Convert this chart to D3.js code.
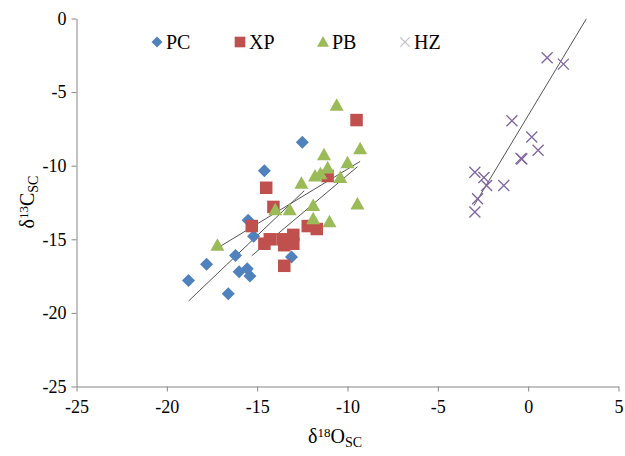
<!DOCTYPE html>
<html>
<head>
<meta charset="utf-8">
<script src="https://cdn.jsdelivr.net/npm/d3@7"></script>
<style>
body { margin: 0; background: #fff; }
text { font-family: "Liberation Serif", "Times New Roman", serif; fill: #000; }
</style>
</head>
<body>
<div id="chart"></div>
<script>
// values
var pcX = [-18.8, -17.8, -16.6, -16.2, -16.0, -15.55, -15.4, -15.5, -15.2, -14.6, -13.1, -12.5];
var pcY = [-17.8, -16.7, -18.7, -16.1, -17.2, -17.0, -17.5, -13.7, -14.8, -10.35, -16.2, -8.4];

var xpX = [-9.5, -11.1, -14.5, -14.1, -15.3, -12.2, -11.7, -13.0, -13.6, -14.3, -14.6, -13.5, -13.0, -13.5];
var xpY = [-6.9, -10.7, -11.5, -12.8, -14.1, -14.1, -14.3, -14.7, -15.0, -15.0, -15.3, -15.4, -15.3, -16.8];

var pbX = [-17.2, -14.0, -13.2, -12.55, -11.9, -11.9, -11.0, -11.8, -11.5, -11.1, -11.3, -10.4, -10.0, -9.3, -9.45, -10.6];
var pbY = [-15.4, -13.0, -13.0, -11.2, -12.7, -13.6, -13.8, -10.7, -10.55, -10.15, -9.25, -10.8, -9.8, -8.85, -12.6, -5.9];

var hzX = [1.05, 1.95, -0.9, 0.2, 0.55, -0.35, -0.4, -2.95, -2.45, -2.3, -1.35, -2.8, -2.95];
var hzY = [-2.67, -3.1, -6.95, -8.05, -8.95, -9.55, -9.5, -10.45, -10.8, -11.35, -11.35, -12.25, -13.15];

// linear trendlines: slope, intercept, x start, x end
var trendSlope = [1.17, 1.034, 0.745, 2.04];
var trendIntercept = [2.8, -0.3, -2.78, -6.59];
var trendStart = [-18.8, -15.3, -17.15, -3.0];
var trendEnd = [-12.4, -9.45, -9.3, 3.22];

var seriesNames = ["PC", "XP", "PB", "HZ"];
var xTicks = [-25, -20, -15, -10, -5, 0, 5];
var yTicks = [0, -5, -10, -15, -20, -25];

var series = [
    {xs: pcX, ys: pcY, color: "#4F81BD", shape: "diamond"},
    {xs: xpX, ys: xpY, color: "#C0504D", shape: "square"},
    {xs: pbX, ys: pbY, color: "#9BBB59", shape: "triangle"},
    {xs: hzX, ys: hzY, color: "#8064A2", shape: "cross"}
];

var width = 625, height = 456;
var serif = "'Liberation Serif', 'Times New Roman', serif";

var svg = d3.select("#chart").append("svg")
    .attr("width", width)
    .attr("height", height);

var x = d3.scaleLinear().domain([-25, 5]).range([76.5, 618.5]);
var y = d3.scaleLinear().domain([-25, 0]).range([386.5, 18.5]);

var axisColor = "#868686";
var fmt = function(d) { return String(d); };   // plain hyphen, like the original

var xAxis = svg.append("g")
    .attr("transform", "translate(0," + y(-25) + ")")
    .call(d3.axisBottom(x).tickValues(xTicks).tickSize(5).tickSizeOuter(0).tickFormat(fmt));

var yAxis = svg.append("g")
    .attr("transform", "translate(" + x(-25) + ",0)")
    .call(d3.axisLeft(y).tickValues(yTicks).tickSize(5).tickSizeOuter(0).tickFormat(fmt));

[xAxis, yAxis].forEach(function(a)
{
    a.attr("font-family", serif);
    a.select(".domain").attr("stroke", axisColor);
    a.selectAll(".tick line").attr("stroke", axisColor);
    a.selectAll(".tick text")
        .style("font-family", serif)
        .style("font-size", "18px")
        .attr("fill", "#000");
});
xAxis.selectAll(".tick text").attr("dy", "1.05em");
yAxis.selectAll(".tick text").attr("x", -10);

var lines = svg.append("g");
trendSlope.forEach(function(b, i)
{
    var a = trendIntercept[i];
    lines.append("line")
        .attr("x1", x(trendStart[i])).attr("y1", y(a + b * trendStart[i]))
        .attr("x2", x(trendEnd[i])).attr("y2", y(a + b * trendEnd[i]))
        .attr("stroke", "#555")
        .attr("stroke-width", 1);
});

function drawMarker(g, shape, color)
{
    if (shape == "diamond") {
        g.append("path").attr("d", "M0,-6.5L6.5,0L0,6.5L-6.5,0Z").attr("fill", color);
    } else if (shape == "square") {
        g.append("rect").attr("x", -6.25).attr("y", -6.25).attr("width", 12.5).attr("height", 12.5).attr("fill", color);
    } else if (shape == "triangle") {
        g.append("path").attr("d", "M0,-7L7,5.5L-7,5.5Z").attr("fill", color);
    } else {
        g.append("path").attr("d", "M-5.5,-5.5L5.5,5.5M-5.5,5.5L5.5,-5.5")
            .attr("stroke", color).attr("stroke-width", 1.3).attr("fill", "none");
    }
}

var pointsG = svg.append("g");
series.forEach(function(s)
{
    s.xs.forEach(function(xv, i)
    {
        var g = pointsG.append("g")
            .attr("transform", "translate(" + x(xv) + "," + y(s.ys[i]) + ")");
        drawMarker(g, s.shape, s.color);
    });
});

// legend
var legendX = [157, 240, 323, 405];
var legend = svg.append("g").attr("transform", "translate(0,42)");
series.forEach(function(s, i)
{
    var g = legend.append("g").attr("transform", "translate(" + legendX[i] + ",0)");
    var m = g.append("g").attr("transform", "scale(0.85)");
    drawMarker(m, s.shape, s.shape == "cross" ? "#BDBDC8" : s.color);
    g.append("text")
        .attr("x", 9)
        .attr("y", 7)
        .style("font-family", serif)
        .style("font-size", "20px")
        .text(seriesNames[i]);
});

// axis titles
var xt = svg.append("text")
    .attr("x", 335)
    .attr("y", 443)
    .attr("text-anchor", "middle")
    .style("font-family", serif)
    .style("font-size", "20px");
xt.append("tspan").text("δ");
xt.append("tspan").attr("dy", -6).style("font-size", "13px").text("18");
xt.append("tspan").attr("dy", 6).text("O");
xt.append("tspan").attr("dy", 4).style("font-size", "14px").text("SC");

var yt = svg.append("text")
    .attr("transform", "translate(34,202) rotate(-90)")
    .attr("text-anchor", "middle")
    .style("font-family", serif)
    .style("font-size", "20px");
yt.append("tspan").text("δ");
yt.append("tspan").attr("dy", -6).style("font-size", "13px").text("13");
yt.append("tspan").attr("dy", 6).text("C");
yt.append("tspan").attr("dy", 4).style("font-size", "14px").text("SC");
</script>
</body>
</html>
